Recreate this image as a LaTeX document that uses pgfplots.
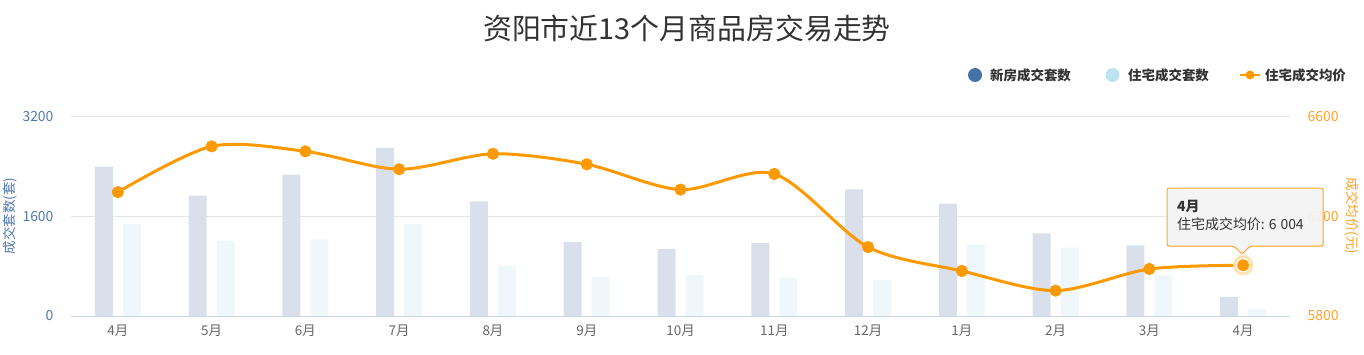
\documentclass[border=0pt]{standalone}
\usepackage{pgfplots}
\pgfplotsset{compat=1.18}
\usepackage{pgfplotstable}
\usepackage{fontspec}
\setmainfont{Noto Sans CJK SC}
\usetikzlibrary{shadows}
\definecolor{titlec}{HTML}{333333}
\definecolor{newc}{HTML}{4572A7}
\definecolor{newbar}{HTML}{DAE0EB}
\definecolor{resc}{HTML}{BDE3F0}
\definecolor{resbar}{HTML}{F0F7FA}
\definecolor{linec}{HTML}{FF9900}
\definecolor{haloc}{HTML}{FFE2B3}
\definecolor{orangetxt}{HTML}{FFA126}
\definecolor{bluetxt}{HTML}{5078B0}
\definecolor{gridc}{HTML}{E6E6E6}
\definecolor{basec}{HTML}{CCD6EB}
\definecolor{xlab}{HTML}{666666}
\pgfplotstableread{
x new res price
0 2400 1477 6298
1 1936 1211 6482
2 2272 1232 6462
3 2709 1477 6390
4 1845 811 6452
5 1189 635 6410
6 1077 656 6308
7 1173 619 6371
8 2037 576 6077
9 1808 1152 5981
10 1328 1099 5902
11 1136 656 5989
12 309 112 6004
}\datatable
\begin{document}
\begin{tikzpicture}[x=1bp,y=1bp]
\useasboundingbox (0,0) rectangle (1364,354);
\begin{axis}[
  at={(71bp,38bp)}, anchor=south west, scale only axis,
  width=1219bp, height=199bp,
  xmin=-0.5, xmax=12.5, ymin=0, ymax=3200,
  ytick={0,1600,3200},
  xtick={0,...,12},
  xticklabels={4月,5月,6月,7月,8月,9月,10月,11月,12月,1月,2月,3月,4月},
  axis line style={draw=none},
  major tick length=0pt,
  ymajorgrids, grid style={gridc, line width=1bp},
  /pgf/number format/assume math mode=true,
  /pgf/number format/1000 sep={},
  yticklabel style={font=\fontsize{14}{16}\selectfont, text=bluetxt, xshift=-14bp},
  xticklabel style={font=\fontsize{13.5}{16}\selectfont, text=xlab, yshift=-5bp},
  clip=false,
]
\addplot[ybar, bar width=18bp, bar shift=-14bp, fill=newbar, draw=none] table[x=x,y=new]{\datatable};
\addplot[ybar, bar width=18bp, bar shift=14bp, fill=resbar, draw=none] table[x=x,y=res]{\datatable};
\draw[basec, line width=1bp] (rel axis cs:0,0) -- (rel axis cs:1,0);
\end{axis}
\begin{axis}[
  at={(71bp,38bp)}, anchor=south west, scale only axis,
  width=1219bp, height=199bp,
  xmin=-0.5, xmax=12.5, ymin=5800, ymax=6600,
  ytick={5800,6200,6600},
  axis y line*=right, hide x axis,
  y axis line style={draw=none},
  major tick length=0pt,
  /pgf/number format/assume math mode=true,
  /pgf/number format/1000 sep={},
  yticklabel style={font=\fontsize{14}{16}\selectfont, text=orangetxt, xshift=14bp},
  clip=false,
]
\addplot[linec, line width=3bp, smooth, tension=0.5, mark=*, mark size=4.5bp, mark options={fill=linec, draw=none}] table[x=x,y=price]{\datatable};
\addplot[haloc, only marks, mark=*, mark size=10bp, mark options={fill=haloc, draw=none}] coordinates {(12,6004)};
\addplot[linec, only marks, mark=*, mark size=6.5bp, mark options={fill=linec, draw=white, line width=1bp}] coordinates {(12,6004)};
\end{axis}
% title
\node[text=titlec, font=\fontsize{29}{34}\selectfont] at (687,326) {资阳市近13个月商品房交易走势};
% legend
\fill[newc] (975,279) circle (7);
\node[anchor=west, inner sep=0, text=titlec, font=\fontsize{13.5}{16}\selectfont\bfseries] at (990,279) {新房成交套数};
\fill[resc] (1112.5,279) circle (7);
\node[anchor=west, inner sep=0, text=titlec, font=\fontsize{13.5}{16}\selectfont\bfseries] at (1128,279) {住宅成交套数};
\draw[linec, line width=2.5bp] (1240,279) -- (1260,279);
\fill[linec] (1250,279) circle (4.5);
\node[anchor=west, inner sep=0, text=titlec, font=\fontsize{13.5}{16}\selectfont\bfseries] at (1265,279) {住宅成交均价};
% axis titles
\node[rotate=90, text=bluetxt, font=\fontsize{13.5}{15}\selectfont] at (10,138) {成交套数(套)};
\node[rotate=-90, text=orangetxt, font=\fontsize{13.5}{15}\selectfont] at (1352,138) {成交均价(元)};
% tooltip
\filldraw[fill=white!96!black, fill opacity=0.92, draw=linec!85!white, line width=1bp, rounded corners=2bp,
  drop shadow={opacity=0.15, shadow xshift=1bp, shadow yshift=-1bp}]
  (1167,108) -- (1234,108) -- (1242,100) -- (1250,108) -- (1323,108) -- (1323,166) -- (1167,166) -- cycle;
\node[anchor=west, inner sep=0, text=titlec, font=\fontsize{14}{16}\selectfont\bfseries] at (1177,147) {4月};
\node[anchor=west, inner sep=0, text=titlec, font=\fontsize{14}{16}\selectfont] at (1177,129.5) {住宅成交均价:\hspace{4bp}6\hspace{4bp}004};
\end{tikzpicture}
\end{document}
